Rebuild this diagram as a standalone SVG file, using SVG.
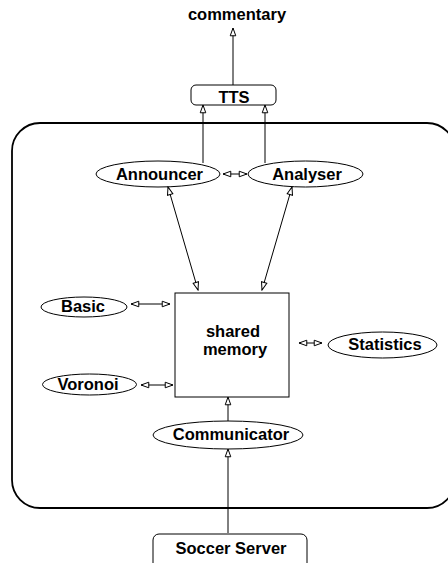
<svg xmlns="http://www.w3.org/2000/svg" width="448" height="563" viewBox="0 0 448 563">
<style>
text{font-family:"Liberation Sans",Arial,sans-serif;font-weight:bold;font-size:16.5px;text-anchor:middle;fill:#000}
.n{fill:#fff;stroke:#000;stroke-width:1}
.c{fill:none;stroke:#000;stroke-width:1;marker-end:url(#ah)}
.d{marker-start:url(#ah)}
</style>
<defs>
<marker id="ah" markerUnits="userSpaceOnUse" markerWidth="10" markerHeight="8" refX="7" refY="2.5" orient="auto-start-reverse" viewBox="-1 -1 9 7">
<path d="M0,0 L7,2.5 L0,5 Z" fill="#fff" stroke="#000" stroke-width="0.9"/>
</marker>
</defs>
<rect x="12" y="123" width="443" height="385" rx="28" ry="28" fill="none" stroke="#000" stroke-width="1.8"/>
<g id="commentary"><text x="237" y="20">commentary</text></g>
<g id="tts"><rect class="n" x="191" y="85" width="85" height="20" rx="5"/><text x="234" y="103">TTS</text></g>
<g id="announcer"><ellipse class="n" cx="158" cy="174" rx="62" ry="13"/><text x="159.5" y="180">Announcer</text></g>
<g id="analyser"><ellipse class="n" cx="305.5" cy="174" rx="57.5" ry="13"/><text x="307" y="180">Analyser</text></g>
<g id="shared"><rect class="n" x="175" y="293" width="114" height="104"/><text x="233" y="337">shared</text><text x="235" y="355">memory</text></g>
<g id="basic"><ellipse class="n" cx="84" cy="307" rx="43" ry="10"/><text x="83" y="312">Basic</text></g>
<g id="voronoi"><ellipse class="n" cx="89.5" cy="384.5" rx="47" ry="10.5"/><text x="88" y="390">Voronoi</text></g>
<g id="statistics"><ellipse class="n" cx="382.5" cy="345" rx="54.5" ry="13"/><text x="385" y="350">Statistics</text></g>
<g id="communicator"><ellipse class="n" cx="228" cy="435" rx="75" ry="14"/><text x="231" y="440">Communicator</text></g>
<g id="soccer"><rect class="n" x="153" y="534" width="154" height="40" rx="6"/><text x="231" y="554">Soccer Server</text></g>
<g id="connectors">
<line class="c" x1="233" y1="85" x2="233" y2="28"/>
<line class="c" x1="203" y1="163" x2="203" y2="105"/>
<line class="c" x1="265" y1="163" x2="265" y2="105"/>
<line class="c d" x1="223" y1="174" x2="247" y2="174"/>
<line class="c d" x1="168" y1="187" x2="198" y2="290"/>
<line class="c d" x1="292" y1="187" x2="262" y2="290"/>
<line class="c d" x1="131" y1="304" x2="170" y2="304"/>
<line class="c d" x1="141" y1="385" x2="173" y2="385"/>
<line class="c d" x1="299" y1="343" x2="322" y2="343"/>
<line class="c" x1="228" y1="421" x2="228" y2="397"/>
<line class="c" x1="228" y1="533" x2="228" y2="449"/>
</g>
</svg>
